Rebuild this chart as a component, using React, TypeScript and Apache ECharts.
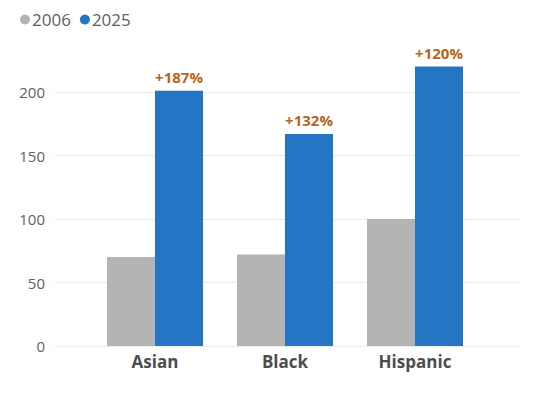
import React, { useEffect, useRef } from "react";
import * as echarts from "echarts";

const categories = ["Asian", "Black", "Hispanic"];
const values2006 = [70, 72, 100];
const values2025 = [201, 167, 220];
const changeLabels = ["+187%", "+132%", "+120%"];
const yTicks = { min: 0, max: 200, interval: 50 };

const FONT = "'Open Sans', 'Noto Sans', sans-serif";

export default function App() {
  const ref = useRef<HTMLDivElement>(null);
  useEffect(() => {
    if (!ref.current) return;
    const chart = echarts.init(ref.current, null, { renderer: "svg" });
    chart.setOption({
      animation: false,
      backgroundColor: "#ffffff",
      textStyle: { fontFamily: FONT },
      legend: {
        left: 15,
        top: 6,
        icon: "circle",
        itemWidth: 10,
        itemHeight: 10,
        itemGap: 9,
        textStyle: { fontSize: 17, color: "#606060", fontFamily: FONT, padding: [0, 0, 0, -3] },
        data: ["2006", "2025"],
      },
      grid: [
        { left: 55, right: 18, top: 92, bottom: 51 },
        { left: 90, right: 58, top: 92, bottom: 51 },
      ],
      xAxis: [
        { type: "value", gridIndex: 0, show: false, min: 0, max: 1 },
        {
          type: "category",
          gridIndex: 1,
          data: categories,
          axisLine: { show: false },
          axisTick: { show: false },
          axisLabel: {
            margin: 7,
            fontSize: 17,
            fontWeight: "bold",
            color: "#4D4D4D",
            fontFamily: FONT,
          },
        },
      ],
      yAxis: [
        {
          type: "value",
          gridIndex: 0,
          min: yTicks.min,
          max: yTicks.max,
          interval: yTicks.interval,
          axisLine: { show: false },
          axisTick: { show: false },
          axisLabel: { margin: 10, fontSize: 15, color: "#606060", fontFamily: FONT },
          splitLine: { lineStyle: { color: "#EBEBEB", width: 1 } },
        },
        {
          type: "value",
          gridIndex: 1,
          min: yTicks.min,
          max: yTicks.max,
          show: false,
          splitLine: { show: false },
        },
      ],
      series: [
        {
          name: "2006",
          type: "bar",
          xAxisIndex: 1,
          yAxisIndex: 1,
          data: values2006,
          barWidth: 48,
          barGap: "0%",
          clip: false,
          itemStyle: { color: "#B4B4B4" },
        },
        {
          name: "2025",
          type: "bar",
          xAxisIndex: 1,
          yAxisIndex: 1,
          data: values2025,
          barWidth: 48,
          barGap: "0%",
          clip: false,
          itemStyle: { color: "#2475C3" },
          label: {
            show: true,
            position: "top",
            distance: 6,
            formatter: (p: any) => changeLabels[p.dataIndex],
            fontSize: 15,
            fontWeight: "bold",
            color: "#B5651D",
            fontFamily: FONT,
          },
        },
      ],
    });
    return () => chart.dispose();
  }, []);
  return <div ref={ref} style={{ width: 538, height: 397, position: "absolute", left: 0, top: 0 }} />;
}
